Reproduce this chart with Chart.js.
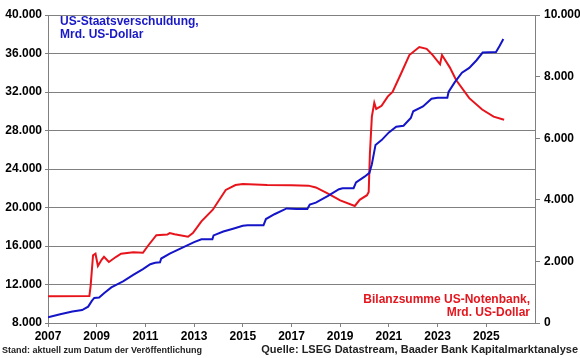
<!DOCTYPE html>
<html>
<head>
<meta charset="utf-8">
<script src="https://cdn.jsdelivr.net/npm/chart.js@4"></script>
<style>
  body { margin: 0; background: #fff; }
  #wrap { position: relative; width: 580px; height: 358px; font-family: "Liberation Sans", Arial, sans-serif; }
  canvas { position: absolute; left: 0; top: 0; }
  .note { position: absolute; font-weight: bold; white-space: nowrap; }
</style>
</head>
<body>
<div id="wrap">
  <canvas id="chart" width="580" height="358"></canvas>
  <div class="note" style="left:60px; top:15px; font-size:12px; line-height:13px; color:#1818c8;">US-Staatsverschuldung,<br>Mrd. US-Dollar</div>
  <div class="note" style="right:50px; top:293px; font-size:12px; line-height:13px; color:#e4161e; text-align:right;">Bilanzsumme US-Notenbank,<br>Mrd. US-Dollar</div>
  <div class="note" style="left:2px; top:345px; font-size:9px; color:#222;">Stand: aktuell zum Datum der Veröffentlichung</div>
  <div class="note" style="right:2px; top:343px; font-size:11px; color:#222;">Quelle: LSEG Datastream, Baader Bank Kapitalmarktanalyse</div>
</div>
<script>
// US-Staatsverschuldung (Mrd. USD), linke Achse
const debtYears = [2007.0, 2007.5, 2008.0, 2008.4, 2008.65, 2008.8, 2008.9, 2009.1, 2009.3, 2009.6, 2009.9, 2010.1, 2010.5, 2010.9, 2011.2, 2011.4, 2011.6, 2011.65, 2012.0, 2012.5, 2013.0, 2013.3, 2013.75, 2013.8, 2014.2, 2014.6, 2015.0, 2015.2, 2015.85, 2015.95, 2016.3, 2016.8, 2017.2, 2017.65, 2017.75, 2018.0, 2018.5, 2018.95, 2019.1, 2019.55, 2019.65, 2020.0, 2020.2, 2020.3, 2020.45, 2020.7, 2021.0, 2021.3, 2021.6, 2021.9, 2022.0, 2022.4, 2022.75, 2023.0, 2023.4, 2023.45, 2023.7, 2024.0, 2024.3, 2024.6, 2024.85, 2025.4, 2025.55, 2025.7];
const debtValues = [8600, 8900, 9200, 9350, 9700, 10300, 10600, 10650, 11100, 11700, 12100, 12350, 13000, 13600, 14100, 14250, 14300, 14700, 15200, 15800, 16400, 16700, 16700, 17100, 17500, 17800, 18100, 18150, 18150, 18800, 19300, 19900, 19850, 19850, 20300, 20500, 21200, 21900, 22000, 22000, 22600, 23200, 23600, 24500, 26500, 27000, 27800, 28400, 28500, 29300, 30000, 30500, 31300, 31400, 31400, 32000, 33000, 34000, 34500, 35300, 36100, 36150, 36800, 37500];

// Bilanzsumme US-Notenbank (Mrd. USD), rechte Achse
const fedYears = [2007.0, 2008.7, 2008.75, 2008.85, 2008.95, 2009.05, 2009.2, 2009.3, 2009.5, 2009.8, 2010.0, 2010.5, 2010.9, 2011.1, 2011.45, 2011.9, 2012.0, 2012.2, 2012.75, 2012.95, 2013.3, 2013.76, 2014.3, 2014.7, 2015.0, 2016.0, 2017.0, 2017.7, 2018.0, 2018.5, 2019.0, 2019.6, 2019.8, 2020.1, 2020.17, 2020.22, 2020.3, 2020.4, 2020.48, 2020.7, 2020.95, 2021.15, 2021.5, 2021.84, 2022.25, 2022.55, 2022.8, 2023.1, 2023.18, 2023.5, 2023.76, 2024.3, 2024.83, 2025.3, 2025.73];
const fedValues = [870, 880, 1200, 2200, 2250, 1850, 2050, 2150, 1980, 2150, 2250, 2300, 2280, 2500, 2850, 2870, 2920, 2880, 2800, 2920, 3300, 3670, 4320, 4480, 4510, 4480, 4470, 4460, 4400, 4200, 3980, 3800, 4000, 4150, 4250, 5500, 6700, 7150, 6950, 7050, 7350, 7500, 8100, 8700, 8960, 8900, 8700, 8400, 8700, 8300, 7890, 7300, 6930, 6700, 6600];

const xTickYears = [2007, 2009, 2011, 2013, 2015, 2017, 2019, 2021, 2023, 2025];

const de = (v) => v.toLocaleString("de-DE");
const tickFont = { family: "'Liberation Sans', Arial, sans-serif", size: 12, weight: "bold" };

new Chart(document.getElementById("chart"), {
  type: "line",
  data: {
    datasets: [
      {
        label: "US-Staatsverschuldung",
        data: debtYears.map((x, i) => ({ x: x, y: debtValues[i] })),
        borderColor: "#1414c8",
        borderWidth: 2,
        pointRadius: 0,
        tension: 0,
        yAxisID: "y",
      },
      {
        label: "Bilanzsumme US-Notenbank",
        data: fedYears.map((x, i) => ({ x: x, y: fedValues[i] })),
        borderColor: "#e8141c",
        borderWidth: 2,
        pointRadius: 0,
        tension: 0,
        yAxisID: "y2",
      },
    ],
  },
  options: {
    responsive: false,
    animation: false,
    layout: { padding: { top: 15, left: 0, right: 0, bottom: 0 } },
    plugins: { legend: { display: false }, tooltip: { enabled: false } },
    scales: {
      x: {
        type: "linear",
        min: 2007,
        max: 2027,
        afterBuildTicks: (s) => { s.ticks = xTickYears.map((v) => ({ value: v })); },
        afterFit: (s) => { s.height = 35; },
        ticks: { color: "#000", font: tickFont, padding: 2, maxRotation: 0, callback: (v) => String(v) },
        grid: { drawOnChartArea: false, color: "#808080", tickLength: 4 },
        border: { color: "#808080" },
      },
      y: {
        position: "left",
        min: 8000,
        max: 40000,
        afterBuildTicks: (s) => {
          const t = [];
          for (let v = 8000; v <= 40000; v += 4000) t.push({ value: v });
          s.ticks = t;
        },
        afterFit: (s) => { s.width = 48; },
        ticks: { color: "#000", font: tickFont, padding: 3, callback: (v) => de(v) },
        grid: { color: "#808080", lineWidth: 1, tickLength: 3 },
        border: { color: "#808080" },
      },
      y2: {
        position: "right",
        min: 0,
        max: 10000,
        afterBuildTicks: (s) => {
          const t = [];
          for (let v = 0; v <= 10000; v += 2000) t.push({ value: v });
          s.ticks = t;
        },
        afterFit: (s) => { s.width = 45; },
        ticks: { color: "#000", font: tickFont, padding: 4, callback: (v) => de(v) },
        grid: { drawOnChartArea: false, color: "#808080", tickLength: 5 },
        border: { color: "#808080" },
      },
    },
  },
});
</script>
</body>
</html>
